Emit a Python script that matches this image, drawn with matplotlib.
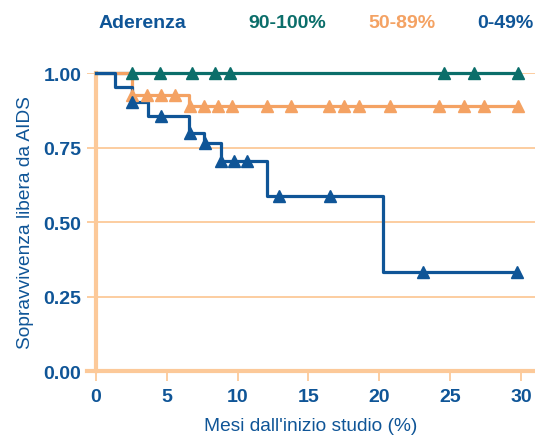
import numpy as np
import matplotlib.pyplot as plt

plt.rcParams['font.family'] = ['Liberation Sans', 'DejaVu Sans']

BLUE = "#0f5597"
GREEN = "#0b6e6a"
ORANGE = "#f4a263"
AXIS = "#fcc999"

# Kaplan-Meier steps (months, survival) per adherence group
t_high = [0, 29.8]
s_high = [1.0, 1.0]
cens_high = [2.56, 4.52, 6.77, 8.4, 9.48, 24.56, 26.7, 29.8]

t_mid = [0, 2.54, 6.6, 29.8]
s_mid = [1.0, 0.927, 0.888, 0.888]
cens_mid = [2.56, 3.62, 4.59, 5.62, 6.63, 7.62, 8.61, 9.62, 12.05, 13.74,
            16.44, 17.52, 18.54, 20.75, 24.23, 26.02, 27.43, 29.78]

t_low = [0, 1.34, 2.54, 3.67, 6.56, 7.65, 8.8, 12.05, 20.3, 29.8]
s_low = [1.0, 0.953, 0.902, 0.857, 0.798, 0.764, 0.706, 0.587, 0.333, 0.333]
cens_low = [2.56, 4.63, 6.63, 7.7, 8.82, 9.72, 10.7, 12.9, 16.5, 23.1, 29.7]

groups = [
    ("90-100%", GREEN, t_high, s_high, cens_high),
    ("50-89%", ORANGE, t_mid, s_mid, cens_mid),
    ("0-49%", BLUE, t_low, s_low, cens_low),
]

fig = plt.figure(figsize=(5.35, 4.39), dpi=100)
ax = fig.add_axes([0.162, 0.1526, 0.838, 0.6788])

for yv in [0.25, 0.5, 0.75, 1.0]:
    ax.axhline(yv, color=AXIS, lw=1.3, zorder=1)

for name, col, t, s, cens in groups:
    ax.step(t, s, where='post', color=col, lw=2.3, zorder=3, clip_on=False)
    # censoring marks sit on the curve level at their time
    t_arr = np.array(t)
    idx = np.searchsorted(t_arr, cens, side='right') - 1
    ys = np.array(s)[idx]
    ax.plot(cens, ys, linestyle='none', marker='^', ms=8.5, color=col,
            zorder=4, clip_on=False)

ax.set_xlim(-0.65, 31.0)
ax.set_ylim(0, 1.0)

for side in ['top', 'right']:
    ax.spines[side].set_visible(False)
ax.spines['left'].set_position(('data', 0))
ax.spines['left'].set_color(AXIS)
ax.spines['left'].set_linewidth(3)
ax.spines['bottom'].set_color(AXIS)
ax.spines['bottom'].set_linewidth(3)

ax.set_xticks([0, 5, 10, 15, 20, 25, 30])
ax.set_yticks([0, 0.25, 0.5, 0.75, 1.0])
ax.set_yticklabels(["0.00", "0.25", "0.50", "0.75", "1.00"])
ax.tick_params(axis='x', colors=AXIS, length=7, width=1.3, labelcolor=BLUE,
               labelsize=14, pad=5)
ax.tick_params(axis='y', colors=AXIS, length=0, labelcolor=BLUE,
               labelsize=14, pad=10.5)
for lab in ax.get_xticklabels() + ax.get_yticklabels():
    lab.set_fontweight('bold')

ax.set_xlabel("Mesi dall'inizio studio (%)", color=BLUE, fontsize=13.8,
              labelpad=9)
ax.set_ylabel("Sopravvivenza libera da AIDS", color=BLUE, fontsize=13.8,
              labelpad=7)

# header acting as legend
hy = 1 - 23 / 439
fig.text(99 / 535, hy, "Aderenza", color=BLUE, fontsize=14,
         fontweight='bold', ha='left', va='center')
fig.text(248 / 535, hy, "90-100%", color=GREEN, fontsize=14,
         fontweight='bold', ha='left', va='center')
fig.text(368 / 535, hy, "50-89%", color=ORANGE, fontsize=14,
         fontweight='bold', ha='left', va='center')
fig.text(533 / 535, hy, "0-49%", color=BLUE, fontsize=14,
         fontweight='bold', ha='right', va='center')

fig.savefig("out.png", dpi=100)
